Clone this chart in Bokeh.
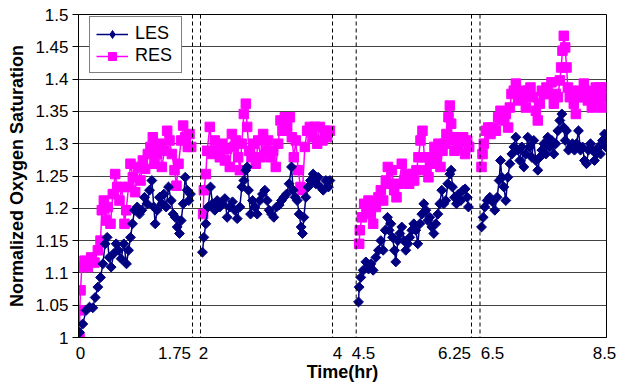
import numpy as np
from bokeh.plotting import figure
from bokeh.models import (Range1d, FixedTicker, Span, Legend, LegendItem,
                          ColumnDataSource, NumeralTickFormatter)
from bokeh.embed import file_html
from bokeh.resources import INLINE

# ---------------- data (hours, normalized O2 saturation) ----------------
LES_T1 = [0.015, 0.066, 0.118, 0.169, 0.220, 0.256, 0.297, 0.338, 0.374, 0.409,
          0.440, 0.471, 0.501, 0.542, 0.578, 0.614, 0.655, 0.696, 0.737, 0.768,
          0.798, 0.829, 0.860, 0.901, 0.936, 0.972, 1.013, 1.054, 1.090, 1.126,
          1.156, 1.177, 1.208, 1.243, 1.279, 1.310, 1.346, 1.382, 1.423, 1.453,
          1.484, 1.515, 1.550, 1.576, 1.607, 1.638, 1.668, 1.694, 1.719]
LES_V1 = [1.008, 1.021, 1.042, 1.047, 1.046, 1.062, 1.078, 1.093, 1.114, 1.145,
          1.155, 1.124, 1.109, 1.130, 1.145, 1.135, 1.122, 1.145, 1.114, 1.135,
          1.155, 1.176, 1.197, 1.202, 1.191, 1.197, 1.217, 1.207, 1.228, 1.243,
          1.202, 1.176, 1.197, 1.217, 1.207, 1.222, 1.202, 1.233, 1.212, 1.191,
          1.186, 1.171, 1.161, 1.181, 1.207, 1.248, 1.228, 1.212, 1.222]

LES_T2 = [2.030, 2.051, 2.081, 2.116, 2.152, 2.182, 2.217, 2.253, 2.293, 2.333,
          2.369, 2.404, 2.444, 2.485, 2.520, 2.556, 2.596, 2.626, 2.657, 2.687,
          2.707, 2.727, 2.758, 2.788, 2.823, 2.859, 2.899, 2.939, 2.975, 3.010,
          3.040, 3.076, 3.111, 3.152, 3.192, 3.227, 3.263, 3.303, 3.343, 3.379,
          3.404, 3.434, 3.465, 3.495, 3.525, 3.545, 3.566, 3.596, 3.631, 3.667,
          3.707, 3.747, 3.783, 3.818, 3.859, 3.899, 3.939, 3.960]
LES_V2 = [1.132, 1.155, 1.176, 1.202, 1.233, 1.207, 1.197, 1.212, 1.202, 1.207,
          1.215, 1.186, 1.202, 1.210, 1.197, 1.184, 1.202, 1.233, 1.243, 1.259,
          1.264, 1.228, 1.191, 1.212, 1.202, 1.191, 1.212, 1.222, 1.228, 1.212,
          1.197, 1.191, 1.186, 1.202, 1.205, 1.212, 1.217, 1.222, 1.238, 1.264,
          1.228, 1.217, 1.212, 1.191, 1.171, 1.161, 1.186, 1.217, 1.233, 1.243,
          1.253, 1.238, 1.248, 1.233, 1.228, 1.243, 1.233, 1.243]

LES_T3 = [4.535, 4.545, 4.570, 4.606, 4.646, 4.687, 4.722, 4.757, 4.798, 4.838,
          4.874, 4.909, 4.940, 4.975, 5.000, 5.026, 5.051, 5.081, 5.101, 5.132,
          5.162, 5.192, 5.223, 5.253, 5.283, 5.314, 5.344, 5.374, 5.405, 5.435,
          5.466, 5.496, 5.526, 5.557, 5.587, 5.617, 5.648, 5.678, 5.708, 5.739,
          5.769, 5.799, 5.830, 5.860, 5.890, 5.921, 5.941, 5.961, 5.992, 6.022,
          6.052, 6.088, 6.123, 6.154, 6.184, 6.204]
LES_V3 = [1.055, 1.078, 1.093, 1.104, 1.117, 1.106, 1.114, 1.104, 1.124, 1.135,
          1.150, 1.135, 1.166, 1.186, 1.166, 1.176, 1.155, 1.135, 1.117, 1.150,
          1.161, 1.171, 1.150, 1.135, 1.145, 1.155, 1.166, 1.176, 1.166, 1.145,
          1.176, 1.191, 1.207, 1.197, 1.181, 1.186, 1.171, 1.161, 1.176, 1.191,
          1.207, 1.228, 1.207, 1.212, 1.238, 1.253, 1.259, 1.233, 1.217, 1.207,
          1.222, 1.212, 1.228, 1.230, 1.217, 1.202]

LES_T4 = [6.524, 6.550, 6.576, 6.613, 6.655, 6.698, 6.734, 6.771, 6.803, 6.824,
          6.845, 6.877, 6.908, 6.940, 6.972, 7.003, 7.035, 7.067, 7.098, 7.130,
          7.161, 7.193, 7.225, 7.256, 7.288, 7.319, 7.351, 7.383, 7.414, 7.446,
          7.478, 7.509, 7.541, 7.572, 7.604, 7.636, 7.667, 7.699, 7.731, 7.762,
          7.794, 7.825, 7.847, 7.868, 7.899, 7.931, 7.962, 7.994, 8.026, 8.057,
          8.089, 8.121, 8.152, 8.184, 8.215, 8.247, 8.279, 8.310, 8.342, 8.374,
          8.405, 8.437, 8.468, 8.489]
LES_V4 = [1.171, 1.186, 1.202, 1.212, 1.217, 1.210, 1.197, 1.217, 1.243, 1.274,
          1.248, 1.233, 1.212, 1.248, 1.269, 1.284, 1.295, 1.310, 1.290, 1.274,
          1.295, 1.264, 1.284, 1.310, 1.295, 1.279, 1.305, 1.274, 1.259, 1.279,
          1.290, 1.300, 1.284, 1.310, 1.295, 1.305, 1.284, 1.300, 1.320, 1.336,
          1.346, 1.325, 1.305, 1.320, 1.290, 1.295, 1.300, 1.290, 1.300, 1.320,
          1.290, 1.295, 1.274, 1.269, 1.290, 1.300, 1.290, 1.274, 1.284, 1.295,
          1.284, 1.305, 1.315, 1.295]

RES_T1 = [0.015, 0.020, 0.031, 0.051, 0.092, 0.143, 0.194, 0.246, 0.297, 0.338,
          0.358, 0.389, 0.425, 0.450, 0.491, 0.527, 0.563, 0.594, 0.629, 0.665,
          0.706, 0.732, 0.768, 0.798, 0.834, 0.870, 0.911, 0.952, 0.988, 1.023,
          1.064, 1.105, 1.141, 1.167, 1.208, 1.243, 1.279, 1.320, 1.361, 1.397,
          1.433, 1.474, 1.504, 1.535, 1.576, 1.607, 1.638, 1.678, 1.704, 1.730]
RES_V1 = [1.000, 1.042, 1.073, 1.109, 1.119, 1.109, 1.124, 1.116, 1.135, 1.150,
          1.197, 1.212, 1.181, 1.202, 1.176, 1.222, 1.253, 1.233, 1.212, 1.233,
          1.176, 1.197, 1.233, 1.269, 1.248, 1.225, 1.264, 1.243, 1.274, 1.261,
          1.284, 1.295, 1.310, 1.269, 1.284, 1.300, 1.264, 1.289, 1.320, 1.305,
          1.284, 1.259, 1.235, 1.269, 1.305, 1.328, 1.310, 1.295, 1.315, 1.295]

RES_T2 = [2.040, 2.051, 2.081, 2.101, 2.141, 2.182, 2.217, 2.253, 2.293, 2.333,
          2.369, 2.404, 2.444, 2.475, 2.505, 2.535, 2.571, 2.596, 2.626, 2.657,
          2.687, 2.707, 2.737, 2.773, 2.808, 2.838, 2.874, 2.909, 2.949, 2.990,
          3.025, 3.061, 3.101, 3.141, 3.177, 3.212, 3.242, 3.278, 3.313, 3.354,
          3.384, 3.414, 3.444, 3.480, 3.515, 3.545, 3.581, 3.616, 3.657, 3.697,
          3.732, 3.768, 3.808, 3.848, 3.884, 3.919, 3.960]
RES_V2 = [1.191, 1.228, 1.253, 1.289, 1.326, 1.284, 1.305, 1.289, 1.279, 1.300,
          1.274, 1.292, 1.264, 1.315, 1.295, 1.305, 1.279, 1.259, 1.300, 1.346,
          1.362, 1.326, 1.289, 1.279, 1.300, 1.269, 1.305, 1.279, 1.315, 1.289,
          1.305, 1.279, 1.289, 1.264, 1.300, 1.336, 1.320, 1.341, 1.326, 1.341,
          1.310, 1.279, 1.305, 1.259, 1.233, 1.228, 1.295, 1.320, 1.326, 1.310,
          1.326, 1.300, 1.326, 1.305, 1.320, 1.310, 1.320]

RES_T3 = [4.545, 4.555, 4.585, 4.621, 4.656, 4.687, 4.722, 4.757, 4.798, 4.838,
          4.874, 4.909, 4.950, 4.980, 5.010, 5.041, 5.076, 5.112, 5.152, 5.192,
          5.228, 5.263, 5.304, 5.344, 5.380, 5.415, 5.445, 5.476, 5.506, 5.536,
          5.567, 5.597, 5.627, 5.658, 5.688, 5.718, 5.749, 5.779, 5.810, 5.840,
          5.870, 5.901, 5.921, 5.941, 5.961, 5.992, 6.022, 6.052, 6.088, 6.123,
          6.154, 6.184, 6.214]
RES_V3 = [1.145, 1.166, 1.186, 1.207, 1.197, 1.212, 1.191, 1.176, 1.202, 1.217,
          1.228, 1.212, 1.243, 1.264, 1.238, 1.259, 1.228, 1.217, 1.238, 1.269,
          1.243, 1.253, 1.238, 1.253, 1.243, 1.259, 1.279, 1.305, 1.320, 1.279,
          1.259, 1.248, 1.269, 1.279, 1.295, 1.279, 1.300, 1.264, 1.289, 1.300,
          1.315, 1.341, 1.359, 1.331, 1.305, 1.289, 1.310, 1.292, 1.305, 1.310,
          1.284, 1.305, 1.295]

RES_T4 = [6.524, 6.540, 6.561, 6.592, 6.629, 6.666, 6.708, 6.750, 6.787, 6.824,
          6.866, 6.908, 6.945, 6.972, 6.998, 7.035, 7.067, 7.103, 7.140, 7.183,
          7.225, 7.262, 7.298, 7.341, 7.383, 7.414, 7.446, 7.478, 7.509, 7.551,
          7.594, 7.630, 7.667, 7.699, 7.731, 7.762, 7.783, 7.804, 7.825, 7.847,
          7.868, 7.889, 7.920, 7.952, 7.983, 8.015, 8.047, 8.078, 8.110, 8.142,
          8.173, 8.205, 8.236, 8.268, 8.300, 8.331, 8.363, 8.395, 8.426, 8.458,
          8.489]
RES_V4 = [1.264, 1.284, 1.300, 1.320, 1.325, 1.315, 1.325, 1.320, 1.341, 1.351,
          1.336, 1.346, 1.325, 1.356, 1.377, 1.382, 1.393, 1.367, 1.382, 1.372,
          1.356, 1.382, 1.387, 1.372, 1.351, 1.336, 1.362, 1.382, 1.377, 1.387,
          1.377, 1.395, 1.362, 1.377, 1.372, 1.398, 1.418, 1.444, 1.467, 1.449,
          1.418, 1.387, 1.372, 1.382, 1.362, 1.346, 1.372, 1.382, 1.372, 1.393,
          1.382, 1.367, 1.372, 1.356, 1.377, 1.387, 1.367, 1.387, 1.356, 1.372,
          1.387]

# recording segments (hours) and the broken time axis
SEG_TIME = [(0.0, 1.75), (2.0, 4.0), (4.5, 6.25), (6.5, 8.5)]
X_TICK_TIMES = [0, 1.75, 2, 4, 4.5, 6.25, 6.5, 8.5]
X_TICK_LABELS = ["0", "1.75", "2", "4", "4.5", "6.25", "6.5", "8.5"]
Y_TICKS = [1.0, 1.05, 1.1, 1.15, 1.2, 1.25, 1.3, 1.35, 1.4, 1.45, 1.5]

# ---------------- layout / style ----------------
SEG_PIX = [(0.0, 114.0), (122.0, 254.0), (277.7, 393.0), (401.5, 528.0)]
X_LABEL_SHIFT = [2.5, -18, 3, 5, 7, -17.5, 12.5, -2.5]
FONT = "Liberation Sans"
LES_COLOR = "#000080"
RES_COLOR = "#FF00FF"


def to_d(t):
    for (t0, t1), (d0, d1) in zip(SEG_TIME, SEG_PIX):
        if t0 - 1e-9 <= t <= t1 + 1e-9:
            return d0 + (t - t0) * (d1 - d0) / (t1 - t0)
    raise ValueError(t)


def build(segments):
    xs, ys = [], []
    for i, (ts, vs) in enumerate(segments):
        if i:
            xs.append(np.nan)
            ys.append(np.nan)
        xs += [to_d(t) for t in ts]
        ys += list(vs)
    return ColumnDataSource(dict(x=np.array(xs), y=np.array(ys)))


les_src = build([(LES_T1, LES_V1), (LES_T2, LES_V2), (LES_T3, LES_V3), (LES_T4, LES_V4)])
res_src = build([(RES_T1, RES_V1), (RES_T2, RES_V2), (RES_T3, RES_V3), (RES_T4, RES_V4)])

p = figure(width=619, height=388, output_backend="svg", toolbar_location=None,
           x_range=Range1d(0, SEG_PIX[-1][1]), y_range=Range1d(1.0, 1.5),
           min_border_left=78, min_border_right=13, min_border_top=14,
           min_border_bottom=51)
p.background_fill_color = "white"
p.border_fill_color = "white"
p.outline_line_color = "black"
p.outline_line_width = 1
p.outline_line_alpha = 1.0

# dashed segment boundaries
bounds = [SEG_PIX[0][1], SEG_PIX[1][0], SEG_PIX[1][1], SEG_PIX[2][0],
          SEG_PIX[2][1], SEG_PIX[3][0]]
for b in bounds:
    p.add_layout(Span(location=b, dimension="height", line_color="black",
                      line_dash="4 3", line_width=1))

res_line = p.line("x", "y", source=res_src, line_color=RES_COLOR, line_width=1.5)
res_pts = p.scatter("x", "y", source=res_src, marker="square", size=9.5,
                    fill_color=RES_COLOR, line_color=RES_COLOR, line_width=1)
les_line = p.line("x", "y", source=les_src, line_color=LES_COLOR, line_width=1.5)
les_pts = p.scatter("x", "y", source=les_src, marker="square", size=7,
                    angle=np.pi / 4, fill_color=LES_COLOR, line_color=LES_COLOR,
                    line_width=1)
# legend-only diamond glyph (single invisible NaN point)
key_src = ColumnDataSource(dict(x=np.array([np.nan]), y=np.array([np.nan])))
les_key = p.scatter("x", "y", source=key_src, marker="diamond", size=10,
                    fill_color=LES_COLOR, line_color=LES_COLOR)

legend = Legend(items=[LegendItem(label="LES", renderers=[les_line, les_key]),
                       LegendItem(label="RES", renderers=[res_line, res_pts])],
                location=(11, 264), margin=0, padding=6, spacing=1,
                glyph_width=32, glyph_height=20, label_standoff=7,
                label_width=40, label_height=20,
                label_text_font=FONT, label_text_font_size="18px",
                label_text_color="black",
                border_line_color="black", border_line_width=1,
                background_fill_color="white", background_fill_alpha=1.0)
p.add_layout(legend)

# axes
x_pos = [int(round(to_d(t) + s)) for t, s in zip(X_TICK_TIMES, X_LABEL_SHIFT)]
p.xaxis.ticker = FixedTicker(ticks=x_pos)
p.xaxis.major_label_overrides = {pos: lab for pos, lab in zip(x_pos, X_TICK_LABELS)}
p.xaxis.major_tick_out = 0
p.xaxis.major_tick_in = 0
p.xaxis.minor_tick_out = 0
p.xaxis.minor_tick_in = 0
p.xaxis.major_label_standoff = 9
p.xaxis.axis_label = "Time(hr)"
p.xaxis.axis_label_standoff = 0

p.yaxis.ticker = FixedTicker(ticks=Y_TICKS)
p.yaxis.formatter = NumeralTickFormatter(format="0.[00]")
p.yaxis.major_tick_out = 6
p.yaxis.major_tick_in = 0
p.yaxis.minor_tick_out = 0
p.yaxis.minor_tick_in = 0
p.yaxis.major_label_standoff = 4
p.yaxis.axis_label = "Normalized Oxygen Saturation"
p.yaxis.axis_label_standoff = 5

for ax in (p.xaxis, p.yaxis):
    ax.axis_line_color = "black"
    ax.major_tick_line_color = "black"
    ax.major_label_text_font = FONT
    ax.major_label_text_font_size = "17px"
    ax.major_label_text_color = "black"
    ax.axis_label_text_font = FONT
    ax.axis_label_text_font_size = "18px"
    ax.axis_label_text_font_style = "bold"
    ax.axis_label_text_color = "black"

p.xgrid.visible = False
p.ygrid.grid_line_color = "#444444"
p.ygrid.grid_line_width = 1

open("out.html", "w").write(file_html(p, INLINE))
